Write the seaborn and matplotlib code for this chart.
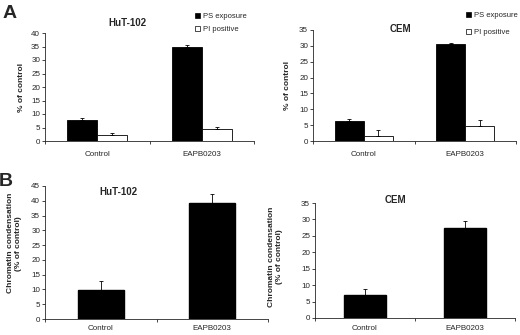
import matplotlib
matplotlib.use("Agg")
import matplotlib.pyplot as plt
import seaborn as sns
import pandas as pd
from matplotlib.patches import Patch

# ---- data ----
categories = ["Control", "EAPB0203"]
series_names = ["PS exposure", "PI positive"]

hut_ps = [7.7, 34.7]
hut_ps_err = [1.0, 0.7]
hut_pi = [2.1, 4.35]
hut_pi_err = [0.9, 0.75]

cem_ps = [6.3, 30.7]
cem_ps_err = [0.5, 0.35]
cem_pi = [1.5, 4.6]
cem_pi_err = [2.1, 2.1]

hut_chrom = [9.65, 39.2]
hut_chrom_err = [3.15, 3.2]
cem_chrom = [6.9, 27.5]
cem_chrom_err = [1.9, 2.1]

sns.set_style("ticks")
plt.rcParams["font.family"] = ["Liberation Sans", "DejaVu Sans"]

fig = plt.figure(figsize=(5.2, 3.35), dpi=100)

TICK_FS = 5.8
LBL_FS = 6.0


def style_axis(ax, ymax, ystep, xpad):
    ax.set_ylim(0, ymax)
    ax.set_xlim(-0.5, 1.5)
    ax.set_yticks(range(0, ymax + 1, ystep))
    ax.tick_params(axis="y", labelsize=TICK_FS, length=2, width=0.6, pad=1.5, direction="out")
    ax.set_xticks([0, 1])
    ax.set_xticklabels(categories)
    ax.set_xticks([-0.5, 0.5, 1.5], minor=True)
    ax.tick_params(axis="x", which="major", length=0, labelsize=TICK_FS, pad=xpad)
    ax.tick_params(axis="x", which="minor", length=2.5, width=0.6, direction="out")
    for s in ["top", "right"]:
        ax.spines[s].set_visible(False)
    for s in ["left", "bottom"]:
        ax.spines[s].set_linewidth(0.6)
    ax.set_xlabel("")


def add_err(ax, errs_per_container):
    for cont, errs in zip(ax.containers, errs_per_container):
        for bar, e in zip(cont, errs):
            x = bar.get_x() + bar.get_width() / 2
            h = bar.get_height()
            ax.errorbar([x], [h], yerr=[[0], [e]], fmt="none", ecolor="black",
                        elinewidth=0.6, capsize=1.6, capthick=0.6)


def grouped(ax, ps, pi):
    df = pd.DataFrame({
        "cat": categories * 2,
        "series": [series_names[0]] * 2 + [series_names[1]] * 2,
        "val": ps + pi,
    })
    sns.barplot(data=df, x="cat", y="val", hue="series", ax=ax,
                palette=["black", "white"], edgecolor="black", linewidth=0.6,
                width=0.57, errorbar=None, legend=False, saturation=1)


# ---- Panel A left: HuT-102 ----
axA1 = fig.add_axes([45 / 520, 1 - 141 / 335, 209 / 520, 108 / 335])
grouped(axA1, hut_ps, hut_pi)
add_err(axA1, [hut_ps_err, hut_pi_err])
style_axis(axA1, 40, 5, 7)
axA1.set_ylabel("% of control", fontsize=LBL_FS, fontweight="bold")
axA1.yaxis.set_label_coords(-0.095, 0.5)

# ---- Panel A right: CEM ----
axA2 = fig.add_axes([313 / 520, 1 - 141 / 335, 203 / 520, 111 / 335])
grouped(axA2, cem_ps, cem_pi)
add_err(axA2, [cem_ps_err, cem_pi_err])
style_axis(axA2, 35, 5, 7)
axA2.set_ylabel("% of control", fontsize=LBL_FS, fontweight="bold")
axA2.yaxis.set_label_coords(-0.11, 0.5)

# ---- Panel B left ----
axB1 = fig.add_axes([45 / 520, 1 - 319 / 335, 223 / 520, 133 / 335])
sns.barplot(x=categories, y=hut_chrom, ax=axB1, color="black", edgecolor="black",
            width=0.41, errorbar=None, saturation=1)
add_err(axB1, [hut_chrom_err])
style_axis(axB1, 45, 5, 4)
axB1.set_ylabel("Chromatin condensation\n(% of control)", fontsize=LBL_FS,
                fontweight="bold", linespacing=1.2)
axB1.yaxis.set_label_coords(-0.105, 0.57)

# ---- Panel B right ----
axB2 = fig.add_axes([315 / 520, 1 - 318 / 335, 200 / 520, 115 / 335])
sns.barplot(x=categories, y=cem_chrom, ax=axB2, color="black", edgecolor="black",
            width=0.42, errorbar=None, saturation=1)
add_err(axB2, [cem_chrom_err])
style_axis(axB2, 35, 5, 5)
axB2.set_ylabel("Chromatin condensation\n(% of control)", fontsize=LBL_FS,
                fontweight="bold", linespacing=1.2)
axB2.yaxis.set_label_coords(-0.16, 0.53)

# ---- titles ----
def ftext(x, y, s, **kw):
    fig.text(x / 520, 1 - y / 335, s, ha="center", va="center", **kw)

ftext(127, 23, "HuT-102", fontsize=7, fontweight="bold")
ftext(400, 29, "CEM", fontsize=7, fontweight="bold")
ftext(118, 192, "HuT-102", fontsize=7, fontweight="bold")
ftext(395, 200, "CEM", fontsize=7, fontweight="bold")
ftext(10, 13, "A", fontsize=14, fontweight="bold")
ftext(6, 181, "B", fontsize=14, fontweight="bold")

# ---- legends ----
handles = [Patch(facecolor="black", edgecolor="black", linewidth=0.5),
           Patch(facecolor="white", edgecolor="black", linewidth=0.5)]
for (lx, ly, gap) in [(195, 13, 0.75), (466, 12, 1.2)]:
    fig.legend(handles, series_names, loc="upper left",
               bbox_to_anchor=(lx / 520, 1 - ly / 335), frameon=False,
               fontsize=5.5, handlelength=0.7, handleheight=0.7,
               handletextpad=0.4, labelspacing=gap, borderaxespad=0,
               borderpad=0)

fig.savefig("out.png", dpi=100)
